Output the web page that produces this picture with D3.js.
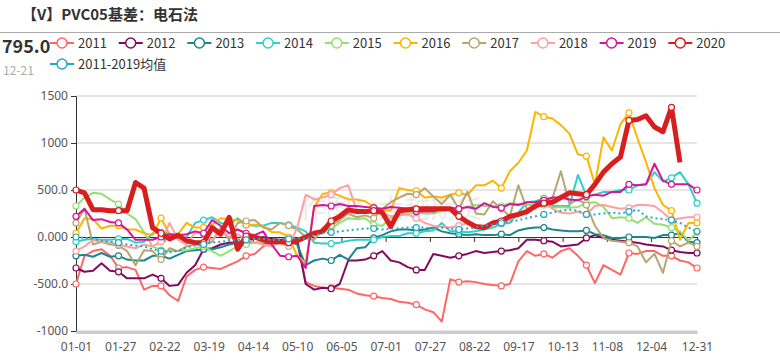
<!DOCTYPE html>
<html>
<head>
<meta charset="utf-8">
<title>PVC05基差</title>
<script src="https://cdn.jsdelivr.net/npm/d3@7"></script>
<style>
  body { margin: 0; background: #fff; }
  text { font-family: "Noto Sans CJK SC", "Noto Sans", sans-serif; }
</style>
</head>
<body>
<svg id="chart" width="780" height="360"></svg>
<script>
// sampled every 5 days of a leap year (index 0 = 01-01)
var days = d3.range(0, 366, 5);
var tickDays = [0, 26, 52, 78, 104, 130, 156, 182, 208, 234, 260, 286, 312, 338, 365];
var tickLabels = ["01-01","01-27","02-22","03-19","04-14","05-10","06-05","07-01","07-27","08-22","09-17","10-13","11-08","12-04","12-31"];
var yTicks = [-1000, -500, 0, 500, 1000, 1500];
var yLabels = ["-1000", "-500.0", "0.000", "500.0", "1000", "1500"];

var names = ["2011","2012","2013","2014","2015","2016","2017","2018","2019","2020","2011-2019均值"];
var colors = ["#ff6666","#800a5c","#1b868c","#30d0c8","#93e075","#ffb400","#b8a670","#ff9f9f","#d3169b","#d81e1e","#26a9c6"];

var v2011 = [-500,-200,-150,-130,-200,-330,-320,-350,-560,-520,
  -520,-620,-680,-420,-350,-320,-330,-340,-300,-260,
  -200,-180,-100,-60,-50,-20,-20,-480,-520,-540,
  -540,-550,-560,-600,-620,-630,-650,-660,-690,-700,
  -720,-770,-800,-900,-450,-480,-470,-480,-500,-510,
  -520,-500,-260,-150,-200,-180,-220,-150,-120,-200,
  -300,-490,-300,-350,-400,-170,-180,-150,-150,-200,
  -200,-250,-270,-330];
var v2012 = [-330,-370,-360,-280,-360,-370,-440,-440,-440,-400,
  -440,-520,-510,-380,-300,-130,-120,-80,-60,-60,
  -40,-20,0,-20,-30,-20,-40,-500,-560,-540,
  -550,-500,-250,-250,-240,-200,-150,-250,-270,-320,
  -350,-350,-180,-200,-220,-200,-180,-150,-170,-160,
  -150,-140,-120,-30,-30,-40,-50,-100,-90,-80,
  -10,20,-10,-30,-40,-50,-60,-80,-90,-100,
  -140,-160,-170,-170];
var v2013 = [-200,-190,-210,-170,-210,-200,-240,-250,-250,-200,
  -200,-230,-190,-150,-140,-130,-130,-110,-80,-60,
  -50,-60,-60,-70,-60,-40,-80,-300,-250,-230,
  -250,-190,-240,-120,-110,-10,20,60,80,80,
  70,80,100,60,40,30,20,30,20,20,
  30,20,70,90,100,100,80,70,60,60,
  70,30,20,-10,-10,0,0,0,-10,20,
  20,40,-50,-60];
var v2014 = [-50,-30,-20,-30,-30,-20,-20,-60,-50,40,
  50,40,-20,0,150,180,210,150,130,200,
  130,120,120,150,150,130,100,60,-60,-70,
  -70,-60,-40,-30,-30,-30,0,10,10,40,
  40,60,70,150,60,60,50,60,80,100,
  140,150,260,370,380,410,330,330,330,660,
  440,450,480,480,500,500,550,560,690,590,
  630,690,560,360];
var v2015 = [330,420,470,460,400,350,250,190,50,-100,
  -140,-150,-150,-140,-120,-100,-150,-200,-150,-100,
  -80,-60,-50,-40,-60,-80,-30,-20,20,60,
  90,150,200,190,200,130,120,200,250,250,
  260,250,250,280,290,290,320,340,330,330,
  330,360,350,340,340,340,310,320,310,320,
  360,370,320,200,210,200,150,210,140,130,
  100,60,-40,50];
var v2016 = [40,200,190,90,120,120,80,80,40,20,
  200,30,30,150,100,100,130,200,190,180,
  130,130,120,50,50,0,-200,-280,320,460,
  470,440,400,400,380,320,290,280,520,500,
  490,420,430,420,450,470,447,550,550,600,
  520,700,790,920,1330,1280,1260,1190,1100,880,
  860,560,1060,920,1200,1320,1050,800,520,340,
  280,-30,150,150];
var v2017 = [150,300,-80,-50,-80,-90,-150,-300,-140,-150,
  -240,-120,-150,-100,-80,-80,-50,100,-30,150,
  170,180,100,80,150,120,80,0,-30,100,
  120,180,250,210,230,200,300,370,420,460,
  450,520,430,350,450,300,480,250,240,380,
  300,220,550,300,300,410,410,700,350,400,
  340,120,-10,-40,-50,-60,-100,-270,-180,-380,
  -40,-100,-60,-100];
var v2018 = [-150,-100,-30,-50,-60,-80,-100,-120,-80,-100,
  -50,150,-30,-80,50,30,-30,80,0,30,
  -30,-60,-80,-100,-60,-100,100,450,400,420,
  450,520,550,280,260,270,250,220,230,240,
  200,150,120,110,100,120,150,130,120,140,
  150,180,250,250,320,380,300,260,250,270,
  240,330,340,320,300,310,340,340,330,260,
  180,200,210,213];
var v2019 = [220,300,180,190,160,150,80,-30,-30,-30,
  0,30,20,30,60,40,180,120,40,80,
  40,20,60,-80,-200,-210,-200,-330,330,340,
  330,350,330,330,320,310,300,320,310,300,
  270,270,270,300,310,300,320,300,360,320,
  310,350,340,370,370,390,420,420,400,390,
  430,450,440,480,480,560,550,560,780,600,
  560,560,560,500];
var v2020 = [500,470,290,290,280,280,280,580,520,100,
  40,-20,20,-40,-60,-60,100,30,210,-130,
  10,0,-30,-50,-50,-60,-40,0,40,60,
  170,220,290,270,270,280,260,110,280,290,
  300,300,300,300,300,220,160,110,100,150,
  170,220,240,270,330,360,370,420,470,460,
  450,560,690,780,850,1240,1250,1290,1170,1120,
  1380,795];
var vAvg = [0,-10,-20,-40,-50,-60,-80,-90,-100,-130,
  -150,-160,-150,-110,-90,-80,-60,-50,-40,-30,
  -30,-20,-20,-30,-30,-20,-10,-20,20,40,
  50,60,70,80,90,90,80,90,90,100,
  100,100,90,100,90,80,90,100,120,130,
  150,160,180,200,220,240,260,280,290,280,
  240,240,250,260,250,270,290,220,200,190,
  180,150,100,60];

var seriesValues = [v2011, v2012, v2013, v2014, v2015, v2016, v2017, v2018, v2019, v2020, vAvg];

var svg = d3.select("#chart");

// title and header
svg.append("text").attr("x", 22).attr("y", 20)
  .attr("font-size", 15).attr("font-weight", "bold").attr("fill", "#333")
  .text("【V】PVC05基差：电石法");
svg.append("line").attr("x1", 0).attr("x2", 780).attr("y1", 32.5).attr("y2", 32.5)
  .attr("stroke", "#aaa").attr("stroke-width", 1);
svg.append("text").attr("x", 2).attr("y", 53)
  .attr("font-size", 18).attr("font-weight", "bold").attr("fill", "#333")
  .text("795.0");
svg.append("text").attr("x", 3).attr("y", 75)
  .attr("font-size", 12).attr("fill", "#aaa")
  .text("12-21");

// legend
var legend = svg.append("g");
names.forEach(function(n, i) {
  var cx = 62 + (i % 10) * 68.7;
  var cy = i < 10 ? 43 : 64;
  var g = legend.append("g");
  g.append("line").attr("x1", cx - 12).attr("x2", cx + 12).attr("y1", cy).attr("y2", cy)
    .attr("stroke", colors[i]).attr("stroke-width", 2);
  g.append("circle").attr("cx", cx).attr("cy", cy).attr("r", 5)
    .attr("fill", "#fff").attr("stroke", colors[i]).attr("stroke-width", 1.5);
  g.append("text").attr("x", cx + 16).attr("y", cy + 4.5)
    .attr("font-size", 13).attr("fill", "#333").text(n);
});

// scales
var x = d3.scaleLinear().domain([0, 365]).range([76, 697]);
var y = d3.scaleLinear().domain([-1000, 1500]).range([331, 96]);

// grid
svg.append("g").selectAll("line").data(yTicks.filter(function(t) { return t !== 0; }))
  .enter().append("line")
  .attr("x1", 76).attr("x2", 697)
  .attr("y1", function(d) { return y(d); }).attr("y2", function(d) { return y(d); })
  .attr("stroke", "#ccc").attr("stroke-width", 1);

// watermark
svg.append("text").attr("x", 300).attr("y", 218)
  .attr("font-size", 26).attr("fill", "#000").attr("opacity", 0.08)
  .text("作图：大越期货");

// y axis
var yAxis = d3.axisLeft(y).tickValues(yTicks).tickSize(5)
  .tickFormat(function(d, i) { return yLabels[i]; });
var gy = svg.append("g").attr("transform", "translate(76,0)").call(yAxis);
gy.select(".domain").attr("stroke", "#333");
gy.selectAll(".tick line").attr("stroke", "#333");
gy.selectAll(".tick text").attr("font-size", 12).attr("fill", "#555")
  .style("font-family", "'Noto Sans', sans-serif");

// x axis at bottom (labels)
var xAxis = d3.axisBottom(x).tickValues(tickDays).tickSize(0).tickPadding(10)
  .tickFormat(function(d, i) { return tickLabels[i]; });
var gx = svg.append("g").attr("transform", "translate(0,332)").call(xAxis);
gx.select(".domain").attr("stroke", "#ccc").attr("stroke-width", 3);
gx.selectAll(".tick text").attr("font-size", 12).attr("fill", "#555")
  .style("font-family", "'Noto Sans', sans-serif");

// zero line with ticks
var xZero = d3.axisBottom(x).tickValues(tickDays).tickSize(5).tickFormat("");
var gz = svg.append("g").attr("transform", "translate(0," + y(0) + ")").call(xZero);
gz.select(".domain").attr("stroke", "#333");
gz.selectAll(".tick line").attr("stroke", "#333");

// lines
var line = d3.line()
  .x(function(d, i) { return x(days[i]); })
  .y(function(d) { return y(d); });

var plot = svg.append("g");
seriesValues.forEach(function(vals, s) {
  var isAvg = s === 10, is2020 = s === 9;
  plot.append("path").datum(vals)
    .attr("d", line)
    .attr("fill", "none")
    .attr("stroke", colors[s])
    .attr("stroke-width", is2020 ? 5 : 2)
    .attr("stroke-dasharray", isAvg ? "2,3" : null)
    .attr("stroke-linejoin", "round");
  var pts = vals.map(function(v, i) { return { i: i, v: v }; })
    .filter(function(p) { return p.i % 5 === 0 || (!is2020 && p.i === vals.length - 1); });
  plot.append("g").selectAll("circle").data(pts).enter().append("circle")
    .attr("cx", function(p) { return x(days[p.i]); })
    .attr("cy", function(p) { return y(p.v); })
    .attr("r", 3)
    .attr("fill", "#fff")
    .attr("stroke", colors[s])
    .attr("stroke-width", 1.2);
});
</script>
</body>
</html>
